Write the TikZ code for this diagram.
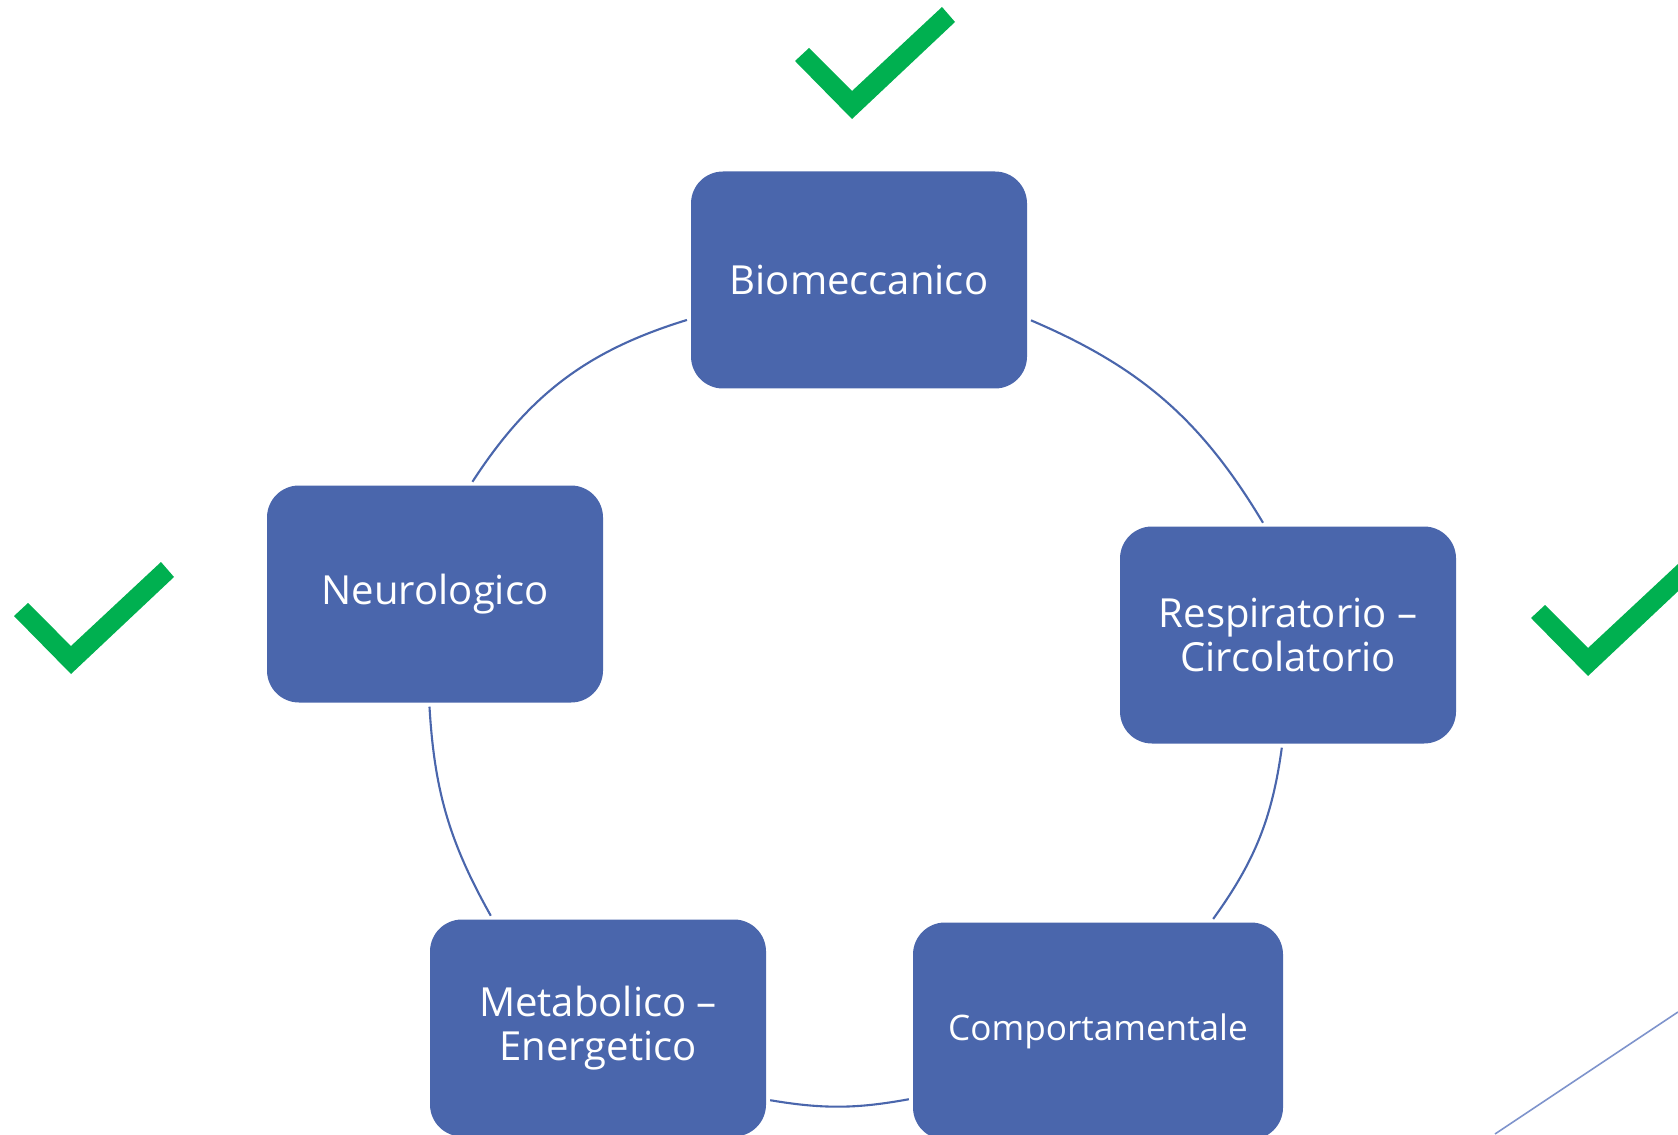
\documentclass[tikz,border=0pt]{standalone}
\usepackage{fontspec}
\setmainfont{Open Sans}
\usetikzlibrary{positioning}

\definecolor{boxblue}{HTML}{4A66AC}
\definecolor{lineblue}{HTML}{4A66AC}
\definecolor{decoblue}{HTML}{7F94CC}
\definecolor{okgreen}{HTML}{00B050}

\begin{document}
\begin{tikzpicture}[
    box/.style={rectangle, rounded corners=0.32cm, fill=boxblue, text=white,
        minimum width=3.36cm, minimum height=2.17cm, inner sep=0pt, align=center,
        font=\fontsize{11.4}{12.6}\selectfont},
    link/.style={draw=lineblue, line width=0.6pt, shorten <=1pt, shorten >=1pt},
    okmark/.pic={\fill[okgreen] (0,0) -- (1.03,0.97) -- (0.90,1.12) -- (0,0.28)
        -- (-0.43,0.71) -- (-0.57,0.58) -- cycle;}]
    \useasboundingbox (0,0) rectangle (16.78,11.34);
    \clip (0,0) rectangle (16.78,11.34);

    % Nodes
    \node[box] (bio)   at (8.59,8.54)  {Biomeccanico};
    \node[box] (neuro) at (4.35,5.40)  {Neurologico};
    \node[box] (resp)  at (12.88,4.99) {Respiratorio --\\Circolatorio};
    \node[box] (metab) at (5.98,1.06)  {Metabolico --\\Energetico};
    \node[box, minimum width=3.70cm, font=\fontsize{10}{12}\selectfont] (comp)
        at (10.98,1.03) {Comportamentale};

    % Cycle, clockwise from the top
    \path[link]
        (bio.-13)   edge [bend left=18] (resp.102)
        (resp.267)  edge [bend left=14] (comp.44)
        (comp.200)  edge [bend left=10] (metab.-23)
        (metab.134) edge [bend left=13] (neuro.267)
        (neuro.72)  edge [bend left=20] (bio.193);

    % Ticks
    \pic at (8.52,10.15) {okmark};
    \pic at (0.71,4.60)  {okmark};
    \pic at (15.88,4.58) {okmark};

    % slide corner line
    \draw[decoblue, line width=0.45pt] (14.95,0) -- (16.78,1.22);
\end{tikzpicture}
\end{document}
